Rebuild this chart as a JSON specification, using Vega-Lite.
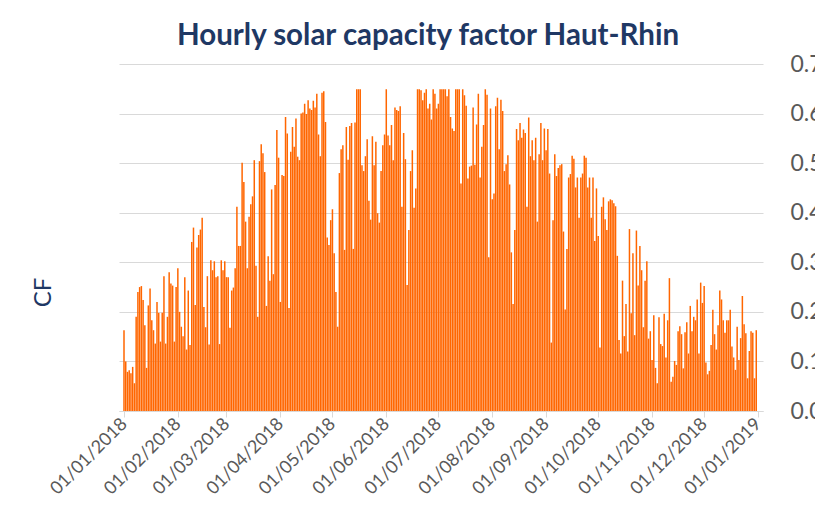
{
 "$schema": "https://vega.github.io/schema/vega-lite/v6.json",
 "width": 644,
 "height": 347,
 "autosize": {"type": "none"},
 "padding": {"left": 119, "top": 64, "right": 52, "bottom": 112},
 "background": "white",
 "config": {"view": {"stroke": null}, "font": "Lato"},
 "title": {"text": "Hourly solar capacity factor Haut-Rhin", "font": "Lato", "fontSize": 29.5, "fontWeight": "bold", "color": "#1f3864", "anchor": "middle", "frame": "group", "dx": -13, "offset": 2},
 "data": {"values": [
{"day":1,"cf":0.163},{"day":2,"cf":0.100},{"day":3,"cf":0.079},{"day":4,"cf":0.082},{"day":5,"cf":0.076},{"day":6,"cf":0.089},{"day":7,"cf":0.056},{"day":8,"cf":0.19},{"day":9,"cf":0.24},{"day":10,"cf":0.25},
{"day":11,"cf":0.252},{"day":12,"cf":0.224},{"day":13,"cf":0.173},{"day":14,"cf":0.087},{"day":15,"cf":0.213},{"day":16,"cf":0.247},{"day":17,"cf":0.183},{"day":18,"cf":0.163},{"day":19,"cf":0.136},{"day":20,"cf":0.22},
{"day":21,"cf":0.198},{"day":22,"cf":0.14},{"day":23,"cf":0.198},{"day":24,"cf":0.272},{"day":25,"cf":0.136},{"day":26,"cf":0.19},{"day":27,"cf":0.28},{"day":28,"cf":0.257},{"day":29,"cf":0.253},{"day":30,"cf":0.14},
{"day":31,"cf":0.25},{"day":32,"cf":0.288},{"day":33,"cf":0.2},{"day":34,"cf":0.17},{"day":35,"cf":0.151},{"day":36,"cf":0.27},{"day":37,"cf":0.124},{"day":38,"cf":0.243},{"day":39,"cf":0.133},{"day":40,"cf":0.341},
{"day":41,"cf":0.37},{"day":42,"cf":0.214},{"day":43,"cf":0.33},{"day":44,"cf":0.355},{"day":45,"cf":0.366},{"day":46,"cf":0.39},{"day":47,"cf":0.21},{"day":48,"cf":0.169},{"day":49,"cf":0.272},{"day":50,"cf":0.134},
{"day":51,"cf":0.304},{"day":52,"cf":0.284},{"day":53,"cf":0.302},{"day":54,"cf":0.27},{"day":55,"cf":0.272},{"day":56,"cf":0.135},{"day":57,"cf":0.304},{"day":58,"cf":0.284},{"day":59,"cf":0.302},{"day":60,"cf":0.27},
{"day":61,"cf":0.27},{"day":62,"cf":0.168},{"day":63,"cf":0.243},{"day":64,"cf":0.249},{"day":65,"cf":0.288},{"day":66,"cf":0.412},{"day":67,"cf":0.333},{"day":68,"cf":0.333},{"day":69,"cf":0.501},{"day":70,"cf":0.462},
{"day":71,"cf":0.382},{"day":72,"cf":0.288},{"day":73,"cf":0.392},{"day":74,"cf":0.417},{"day":75,"cf":0.433},{"day":76,"cf":0.506},{"day":77,"cf":0.293},{"day":78,"cf":0.19},{"day":79,"cf":0.504},{"day":80,"cf":0.538},
{"day":81,"cf":0.52},{"day":82,"cf":0.482},{"day":83,"cf":0.212},{"day":84,"cf":0.312},{"day":85,"cf":0.263},{"day":86,"cf":0.447},{"day":87,"cf":0.276},{"day":88,"cf":0.456},{"day":89,"cf":0.567},{"day":90,"cf":0.511},
{"day":91,"cf":0.22},{"day":92,"cf":0.476},{"day":93,"cf":0.474},{"day":94,"cf":0.593},{"day":95,"cf":0.56},{"day":96,"cf":0.208},{"day":97,"cf":0.523},{"day":98,"cf":0.573},{"day":99,"cf":0.533},{"day":100,"cf":0.59},
{"day":101,"cf":0.513},{"day":102,"cf":0.506},{"day":103,"cf":0.6},{"day":104,"cf":0.602},{"day":105,"cf":0.62},{"day":106,"cf":0.599},{"day":107,"cf":0.627},{"day":108,"cf":0.61},{"day":109,"cf":0.607},{"day":110,"cf":0.626},
{"day":111,"cf":0.612},{"day":112,"cf":0.64},{"day":113,"cf":0.558},{"day":114,"cf":0.514},{"day":115,"cf":0.642},{"day":116,"cf":0.645},{"day":117,"cf":0.583},{"day":118,"cf":0.35},{"day":119,"cf":0.335},{"day":120,"cf":0.385},
{"day":121,"cf":0.407},{"day":122,"cf":0.318},{"day":123,"cf":0.24},{"day":124,"cf":0.17},{"day":125,"cf":0.48},{"day":126,"cf":0.528},{"day":127,"cf":0.536},{"day":128,"cf":0.325},{"day":129,"cf":0.573},{"day":130,"cf":0.507},
{"day":131,"cf":0.575},{"day":132,"cf":0.581},{"day":133,"cf":0.327},{"day":134,"cf":0.582},{"day":135,"cf":0.649},{"day":136,"cf":0.649},{"day":137,"cf":0.649},{"day":138,"cf":0.496},{"day":139,"cf":0.484},{"day":140,"cf":0.514},
{"day":141,"cf":0.548},{"day":142,"cf":0.424},{"day":143,"cf":0.386},{"day":144,"cf":0.554},{"day":145,"cf":0.496},{"day":146,"cf":0.543},{"day":147,"cf":0.399},{"day":148,"cf":0.38},{"day":149,"cf":0.484},{"day":150,"cf":0.536},
{"day":151,"cf":0.558},{"day":152,"cf":0.649},{"day":153,"cf":0.556},{"day":154,"cf":0.536},{"day":155,"cf":0.577},{"day":156,"cf":0.506},{"day":157,"cf":0.612},{"day":158,"cf":0.607},{"day":159,"cf":0.605},{"day":160,"cf":0.615},
{"day":161,"cf":0.412},{"day":162,"cf":0.561},{"day":163,"cf":0.508},{"day":164,"cf":0.254},{"day":165,"cf":0.365},{"day":166,"cf":0.484},{"day":167,"cf":0.526},{"day":168,"cf":0.41},{"day":169,"cf":0.449},{"day":170,"cf":0.649},
{"day":171,"cf":0.649},{"day":172,"cf":0.647},{"day":173,"cf":0.627},{"day":174,"cf":0.642},{"day":175,"cf":0.649},{"day":176,"cf":0.61},{"day":177,"cf":0.62},{"day":178,"cf":0.588},{"day":179,"cf":0.649},{"day":180,"cf":0.64},
{"day":181,"cf":0.61},{"day":182,"cf":0.62},{"day":183,"cf":0.649},{"day":184,"cf":0.649},{"day":185,"cf":0.649},{"day":186,"cf":0.649},{"day":187,"cf":0.635},{"day":188,"cf":0.649},{"day":189,"cf":0.593},{"day":190,"cf":0.57},
{"day":191,"cf":0.565},{"day":192,"cf":0.649},{"day":193,"cf":0.649},{"day":194,"cf":0.649},{"day":195,"cf":0.459},{"day":196,"cf":0.649},{"day":197,"cf":0.637},{"day":198,"cf":0.616},{"day":199,"cf":0.469},{"day":200,"cf":0.493},
{"day":201,"cf":0.495},{"day":202,"cf":0.612},{"day":203,"cf":0.497},{"day":204,"cf":0.578},{"day":205,"cf":0.64},{"day":206,"cf":0.471},{"day":207,"cf":0.533},{"day":208,"cf":0.577},{"day":209,"cf":0.649},{"day":210,"cf":0.638},
{"day":211,"cf":0.31},{"day":212,"cf":0.61},{"day":213,"cf":0.427},{"day":214,"cf":0.439},{"day":215,"cf":0.615},{"day":216,"cf":0.632},{"day":217,"cf":0.528},{"day":218,"cf":0.628},{"day":219,"cf":0.605},{"day":220,"cf":0.484},
{"day":221,"cf":0.498},{"day":222,"cf":0.516},{"day":223,"cf":0.457},{"day":224,"cf":0.32},{"day":225,"cf":0.216},{"day":226,"cf":0.365},{"day":227,"cf":0.569},{"day":228,"cf":0.546},{"day":229,"cf":0.581},{"day":230,"cf":0.551},
{"day":231,"cf":0.568},{"day":232,"cf":0.561},{"day":233,"cf":0.412},{"day":234,"cf":0.592},{"day":235,"cf":0.514},{"day":236,"cf":0.546},{"day":237,"cf":0.506},{"day":238,"cf":0.551},{"day":239,"cf":0.382},{"day":240,"cf":0.518},
{"day":241,"cf":0.581},{"day":242,"cf":0.506},{"day":243,"cf":0.57},{"day":244,"cf":0.526},{"day":245,"cf":0.569},{"day":246,"cf":0.479},{"day":247,"cf":0.138},{"day":248,"cf":0.385},{"day":249,"cf":0.518},{"day":250,"cf":0.474},
{"day":251,"cf":0.49},{"day":252,"cf":0.496},{"day":253,"cf":0.498},{"day":254,"cf":0.362},{"day":255,"cf":0.205},{"day":256,"cf":0.327},{"day":257,"cf":0.471},{"day":258,"cf":0.478},{"day":259,"cf":0.515},{"day":260,"cf":0.509},
{"day":261,"cf":0.451},{"day":262,"cf":0.471},{"day":263,"cf":0.39},{"day":264,"cf":0.471},{"day":265,"cf":0.479},{"day":266,"cf":0.515},{"day":267,"cf":0.511},{"day":268,"cf":0.451},{"day":269,"cf":0.471},{"day":270,"cf":0.39},
{"day":271,"cf":0.471},{"day":272,"cf":0.343},{"day":273,"cf":0.449},{"day":274,"cf":0.353},{"day":275,"cf":0.128},{"day":276,"cf":0.412},{"day":277,"cf":0.431},{"day":278,"cf":0.387},{"day":279,"cf":0.365},{"day":280,"cf":0.423},
{"day":281,"cf":0.427},{"day":282,"cf":0.425},{"day":283,"cf":0.419},{"day":284,"cf":0.413},{"day":285,"cf":0.313},{"day":286,"cf":0.143},{"day":287,"cf":0.116},{"day":288,"cf":0.263},{"day":289,"cf":0.151},{"day":290,"cf":0.216},
{"day":291,"cf":0.12},{"day":292,"cf":0.367},{"day":293,"cf":0.197},{"day":294,"cf":0.318},{"day":295,"cf":0.153},{"day":296,"cf":0.364},{"day":297,"cf":0.253},{"day":298,"cf":0.333},{"day":299,"cf":0.284},{"day":300,"cf":0.169},
{"day":301,"cf":0.263},{"day":302,"cf":0.302},{"day":303,"cf":0.146},{"day":304,"cf":0.161},{"day":305,"cf":0.103},{"day":306,"cf":0.193},{"day":307,"cf":0.087},{"day":308,"cf":0.056},{"day":309,"cf":0.189},{"day":310,"cf":0.135},
{"day":311,"cf":0.131},{"day":312,"cf":0.196},{"day":313,"cf":0.108},{"day":314,"cf":0.183},{"day":315,"cf":0.268},{"day":316,"cf":0.059},{"day":317,"cf":0.069},{"day":318,"cf":0.101},{"day":319,"cf":0.093},{"day":320,"cf":0.161},
{"day":321,"cf":0.171},{"day":322,"cf":0.155},{"day":323,"cf":0.086},{"day":324,"cf":0.159},{"day":325,"cf":0.179},{"day":326,"cf":0.116},{"day":327,"cf":0.212},{"day":328,"cf":0.161},{"day":329,"cf":0.19},{"day":330,"cf":0.183},
{"day":331,"cf":0.225},{"day":332,"cf":0.116},{"day":333,"cf":0.259},{"day":334,"cf":0.218},{"day":335,"cf":0.252},{"day":336,"cf":0.098},{"day":337,"cf":0.074},{"day":338,"cf":0.081},{"day":339,"cf":0.133},{"day":340,"cf":0.204},
{"day":341,"cf":0.155},{"day":342,"cf":0.124},{"day":343,"cf":0.173},{"day":344,"cf":0.243},{"day":345,"cf":0.225},{"day":346,"cf":0.183},{"day":347,"cf":0.158},{"day":348,"cf":0.183},{"day":349,"cf":0.183},{"day":350,"cf":0.204},
{"day":351,"cf":0.13},{"day":352,"cf":0.108},{"day":353,"cf":0.083},{"day":354,"cf":0.17},{"day":355,"cf":0.103},{"day":356,"cf":0.147},{"day":357,"cf":0.232},{"day":358,"cf":0.175},{"day":359,"cf":0.157},{"day":360,"cf":0.066},
{"day":361,"cf":0.121},{"day":362,"cf":0.161},{"day":363,"cf":0.158},{"day":364,"cf":0.066},{"day":365,"cf":0.163}
 ]},
 "layer": [
  {
   "mark": {"type": "bar", "color": "#ff6600", "size": 1.5},
   "encoding": {
    "x": {"field": "day", "type": "quantitative",
     "scale": {"domain": [1, 366], "nice": false, "zero": false},
     "axis": {"values": [1, 32, 60, 91, 121, 152, 182, 213, 244, 274, 305, 335, 366],
      "labelExpr": "timeFormat(datetime(2018, 0, datum.value), '%d/%m/%Y')",
      "title": null, "grid": false, "domainColor": "#d9d9d9", "tickColor": "#d9d9d9", "tickSize": 6,
      "labelAngle": -45, "labelAlign": "right", "labelBaseline": "middle", "labelFontSize": 18,
      "labelColor": "#595959", "labelFont": "Lato", "labelPadding": 4, "labelOverlap": false,
      "labelFlush": false, "labelBound": false}},
    "y": {"field": "cf", "type": "quantitative",
     "scale": {"domain": [0, 0.7], "nice": false},
     "axis": {"orient": "right", "values": [0, 0.1, 0.2, 0.3, 0.4, 0.5, 0.6, 0.7], "format": ".1f",
      "title": null, "domain": false, "ticks": false, "grid": true, "gridColor": "#d9d9d9",
      "labelFontSize": 23, "labelColor": "#595959", "labelPadding": 27, "labelFont": "Lato"}}
   }
  },
  {
   "mark": {"type": "tick", "opacity": 0},
   "encoding": {
    "y": {"field": "cf", "type": "quantitative",
     "axis": {"orient": "left", "title": "CF", "labels": false, "ticks": false, "domain": false, "grid": false,
      "titleFont": "Lato", "titleFontSize": 24, "titleFontWeight": "normal", "titleColor": "#1f3864", "titlePadding": 64, "titleY": 228}}
   }
  }
 ],
 "resolve": {"axis": {"y": "independent"}}
}
